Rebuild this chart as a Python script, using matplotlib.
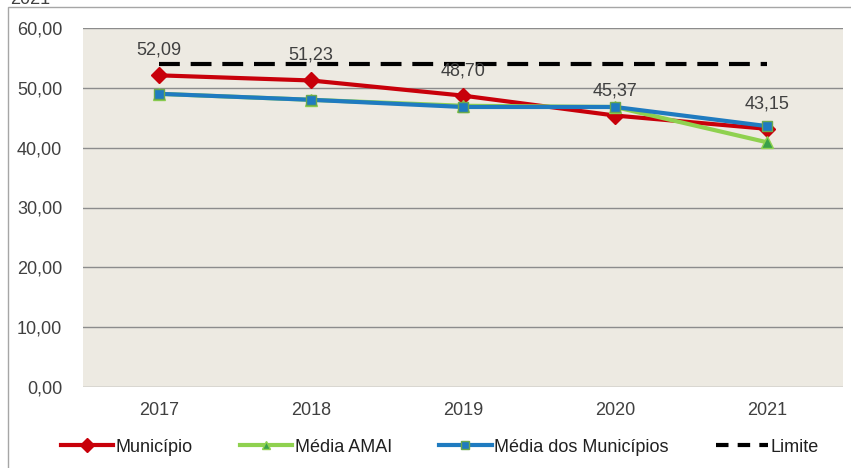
import matplotlib
matplotlib.use("Agg")
import matplotlib.pyplot as plt
from matplotlib.patches import Rectangle
from matplotlib.lines import Line2D

plt.rcParams['font.family'] = ['Liberation Sans', 'DejaVu Sans']

years = ["2017", "2018", "2019", "2020", "2021"]
municipio = [52.09, 51.23, 48.70, 45.37, 43.15]
media_amai = [49.0, 48.0, 47.0, 46.8, 40.9]
media_municipios = [49.0, 48.0, 46.8, 46.8, 43.6]
limite = [54.0, 54.0, 54.0, 54.0, 54.0]
label_texts = ["52,09", "51,23", "48,70", "45,37", "43,15"]
yticks = [0, 10, 20, 30, 40, 50, 60]
ytick_labels = ["0,00", "10,00", "20,00", "30,00", "40,00", "50,00", "60,00"]

W, H = 851, 468
FS = 13
fig = plt.figure(figsize=(W / 100, H / 100), dpi=100)
fig.patch.set_facecolor("white")

# outer frame
fig.add_artist(Rectangle((8 / W, -0.05), 1.2, (H - 7) / H + 0.05, transform=fig.transFigure,
                         fill=False, edgecolor="#a6a6a6", linewidth=1.0))
fig.text(10 / W, 1.0 + 1 / H, "2021", fontsize=FS, color="#404040", ha="left", va="center")

ax = fig.add_axes([83 / W, (H - 387) / H, (843 - 83) / W, (387 - 28) / H])
ax.set_facecolor("#edeae2")
x = list(range(len(years)))
ax.set_xlim(-0.5, len(years) - 0.5)
ax.set_ylim(0, 60)
ax.set_yticks(yticks)
ax.set_yticklabels(ytick_labels)
ax.set_xticks(x)
ax.set_xticklabels(years)
ax.tick_params(axis="both", length=0, labelsize=FS, colors="#404040")
ax.tick_params(axis="y", pad=15)
ax.tick_params(axis="x", pad=11)
for s in ax.spines.values():
    s.set_visible(False)
ax.grid(axis="y", color="#8c8c8c", linewidth=1.0)
ax.set_axisbelow(True)

red = "#c8000a"
green = "#8fd14f"
blue = "#1f7bc0"

ax.plot(x, municipio, color=red, linewidth=3, marker="D", markersize=8,
        markerfacecolor=red, markeredgecolor=red, zorder=3, label="Município")
ax.plot(x, media_amai, color=green, linewidth=3, marker="^", markersize=8,
        markerfacecolor="#3aa04a", markeredgecolor=green, zorder=4, label="Média AMAI")
ax.plot(x, media_municipios, color=blue, linewidth=3, marker="s", markersize=7,
        markerfacecolor=blue, markeredgecolor="#6aa84f", markeredgewidth=1, zorder=5,
        label="Média dos Municípios")
ax.plot(x, limite, color="black", linewidth=3, linestyle=(0, (5.0, 2.6)),
        dash_capstyle="butt", zorder=6, label="Limite")

for xi, v, t in zip(x, municipio, label_texts):
    ax.annotate(t, (xi, v), xytext=(0, 18), textcoords="offset points",
                ha="center", va="center", fontsize=FS, color="#404040", zorder=7)

handles = [
    Line2D([], [], color=red, linewidth=3, marker="D", markersize=7),
    Line2D([], [], color=green, linewidth=3, marker="^", markersize=6,
           markerfacecolor="#3aa04a", markeredgecolor=green),
    Line2D([], [], color=blue, linewidth=3, marker="s", markersize=6,
           markeredgecolor="#6aa84f"),
    Line2D([], [], color="black", linewidth=3, linestyle=(0, (3.0, 2.2))),
]
labels = ["Município", "Média AMAI", "Média dos Municípios", "Limite"]
fig.legend(handles, labels, loc="center", bbox_to_anchor=(440 / W, 1 - 447 / H),
           ncol=4, frameon=False, fontsize=FS, handlelength=2.9,
           handletextpad=0.15, columnspacing=2.6, labelcolor="#202020")

fig.savefig("out.png", dpi=100)
